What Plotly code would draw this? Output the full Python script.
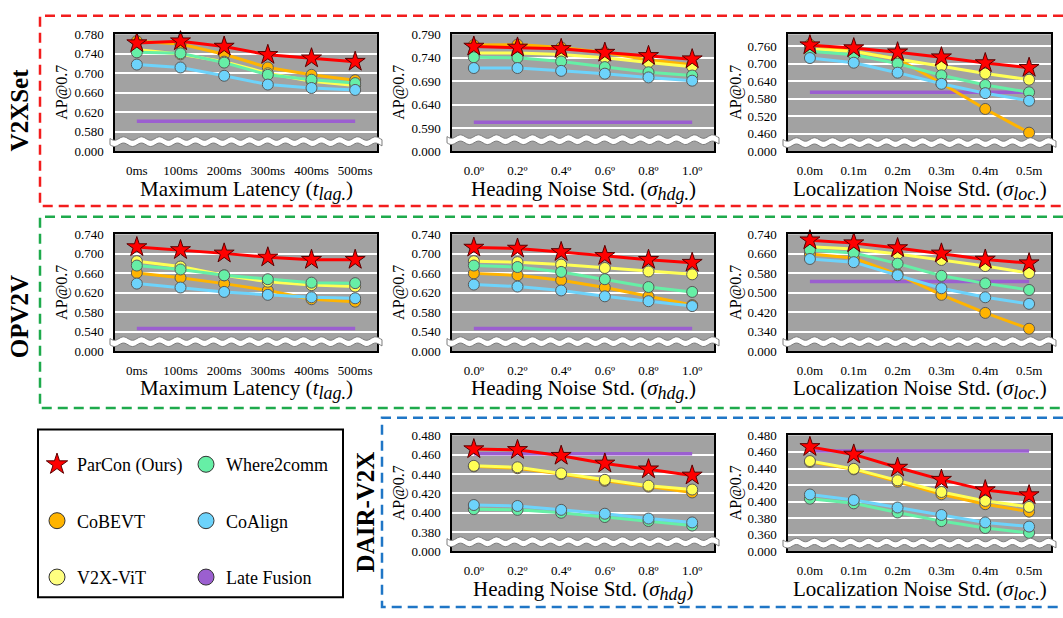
import math
import plotly.graph_objects as go

W, H = 1063, 618
FONT = "Times New Roman, Liberation Serif, DejaVu Serif, serif"

# ---------------------------------------------------------------- tick labels
latency_labels = ["0ms", "100ms", "200ms", "300ms", "400ms", "500ms"]
heading_labels = ["0.0\u00ba", "0.2\u00ba", "0.4\u00ba", "0.6\u00ba", "0.8\u00ba", "1.0\u00ba"]
loc_labels = ["0.0m", "0.1m", "0.2m", "0.3m", "0.4m", "0.5m"]

# ---------------------------------------------------------------- AP@0.7 values
v2xset_latency = {
    "Late Fusion":   [0.602, 0.602, 0.602, 0.602, 0.602, 0.602],
    "CoBEVT":        [0.766, 0.760, 0.739, 0.712, 0.697, 0.686],
    "V2X-ViT":       [0.749, 0.739, 0.724, 0.700, 0.684, 0.675],
    "Where2comm":    [0.743, 0.741, 0.722, 0.697, 0.687, 0.680],
    "CoAlign":       [0.718, 0.712, 0.695, 0.677, 0.670, 0.666],
    "ParCon (Ours)": [0.762, 0.766, 0.755, 0.738, 0.731, 0.724],
}
v2xset_heading = {
    "Late Fusion":   [0.602, 0.602, 0.602, 0.602, 0.602, 0.602],
    "CoBEVT":        [0.767, 0.768, 0.762, 0.751, 0.735, 0.725],
    "V2X-ViT":       [0.750, 0.750, 0.747, 0.740, 0.730, 0.721],
    "Where2comm":    [0.741, 0.740, 0.732, 0.720, 0.709, 0.702],
    "CoAlign":       [0.718, 0.718, 0.712, 0.706, 0.698, 0.691],
    "ParCon (Ours)": [0.764, 0.762, 0.759, 0.751, 0.744, 0.737],
}
v2xset_loc = {
    "Late Fusion":   [0.602, 0.602, 0.602, 0.602, 0.602, 0.602],
    "CoBEVT":        [0.765, 0.742, 0.716, 0.633, 0.545, 0.464],
    "V2X-ViT":       [0.750, 0.741, 0.716, 0.692, 0.666, 0.645],
    "Where2comm":    [0.742, 0.730, 0.700, 0.660, 0.627, 0.602],
    "CoAlign":       [0.719, 0.703, 0.669, 0.631, 0.599, 0.573],
    "ParCon (Ours)": [0.763, 0.753, 0.739, 0.722, 0.702, 0.686],
}
opv2v_latency = {
    "Late Fusion":   [0.547, 0.547, 0.547, 0.547, 0.547, 0.547],
    "CoBEVT":        [0.661, 0.651, 0.639, 0.625, 0.607, 0.602],
    "V2X-ViT":       [0.685, 0.674, 0.656, 0.643, 0.636, 0.633],
    "Where2comm":    [0.676, 0.668, 0.656, 0.648, 0.641, 0.640],
    "CoAlign":       [0.639, 0.631, 0.622, 0.616, 0.611, 0.609],
    "ParCon (Ours)": [0.714, 0.708, 0.701, 0.693, 0.688, 0.688],
}
opv2v_heading = {
    "Late Fusion":   [0.547, 0.547, 0.547, 0.547, 0.547, 0.547],
    "CoBEVT":        [0.660, 0.656, 0.646, 0.631, 0.613, 0.595],
    "V2X-ViT":       [0.685, 0.683, 0.678, 0.671, 0.664, 0.658],
    "Where2comm":    [0.676, 0.673, 0.663, 0.648, 0.632, 0.622],
    "CoAlign":       [0.637, 0.633, 0.625, 0.613, 0.603, 0.593],
    "ParCon (Ours)": [0.713, 0.711, 0.704, 0.696, 0.688, 0.682],
}
opv2v_loc = {
    "Late Fusion":   [0.547, 0.547, 0.547, 0.547, 0.547, 0.547],
    "CoBEVT":        [0.659, 0.643, 0.576, 0.492, 0.418, 0.353],
    "V2X-ViT":       [0.689, 0.680, 0.659, 0.635, 0.610, 0.581],
    "Where2comm":    [0.676, 0.664, 0.620, 0.570, 0.539, 0.512],
    "CoAlign":       [0.639, 0.626, 0.572, 0.519, 0.482, 0.455],
    "ParCon (Ours)": [0.716, 0.704, 0.684, 0.662, 0.637, 0.622],
}
dair_heading = {
    "Late Fusion":   [0.461, 0.461, 0.461, 0.461, 0.461, 0.461],
    "CoBEVT":        [0.448, 0.446, 0.440, 0.433, 0.427, 0.421],
    "V2X-ViT":       [0.4485, 0.447, 0.4407, 0.434, 0.428, 0.424],
    "Where2comm":    [0.4037, 0.403, 0.400, 0.3956, 0.3915, 0.3868],
    "CoAlign":       [0.408, 0.407, 0.403, 0.399, 0.394, 0.390],
    "ParCon (Ours)": [0.4658, 0.465, 0.459, 0.451, 0.445, 0.4386],
}
dair_loc = {
    "Late Fusion":   [0.461, 0.461, 0.461, 0.461, 0.461, 0.461],
    "CoBEVT":        [0.448, 0.439, 0.424, 0.409, 0.397, 0.388],
    "V2X-ViT":       [0.449, 0.4396, 0.4257, 0.4117, 0.401, 0.3937],
    "Where2comm":    [0.4036, 0.398, 0.387, 0.3766, 0.3683, 0.3624],
    "CoAlign":       [0.4087, 0.402, 0.393, 0.384, 0.375, 0.370],
    "ParCon (Ours)": [0.4661, 0.457, 0.4412, 0.4266, 0.414, 0.408],
}

# y tick labels of each panel; the lowest label marks the broken axis
yt_v2x_lat = ["0.000", "0.580", "0.620", "0.660", "0.700", "0.740", "0.780"]
yt_v2x_hdg = ["0.000", "0.590", "0.640", "0.690", "0.740", "0.790"]
yt_v2x_loc = ["0.000", "0.460", "0.520", "0.580", "0.640", "0.700", "0.760"]
yt_opv_lat = ["0.000", "0.540", "0.580", "0.620", "0.660", "0.700", "0.740"]
yt_opv_hdg = ["0.000", "0.540", "0.580", "0.620", "0.660", "0.700", "0.740"]
yt_opv_loc = ["0.000", "0.340", "0.420", "0.500", "0.580", "0.660", "0.740"]
yt_dair_hdg = ["0.000", "0.380", "0.400", "0.420", "0.440", "0.460", "0.480"]
yt_dair_loc = ["0.000", "0.360", "0.380", "0.400", "0.420", "0.440", "0.460", "0.480"]

# ---------------------------------------------------------------- styles
STYLE = {
    "ParCon (Ours)": dict(color="#ff0000", symbol="star", size=15, edge="#5a0000"),
    "CoBEVT":        dict(color="#ffb400", symbol="circle", size=11, edge="#5a5a5a"),
    "V2X-ViT":       dict(color="#ffff55", symbol="circle", size=11, edge="#5a5a5a"),
    "Where2comm":    dict(color="#66efa6", symbol="circle", size=11, edge="#5a5a5a"),
    "CoAlign":       dict(color="#6dd3fb", symbol="circle", size=11, edge="#5a5a5a"),
    "Late Fusion":   dict(color="#9b5fd0", symbol="circle", size=11, edge="#5a5a5a"),
}
DRAW_ORDER = ["Late Fusion", "CoBEVT", "V2X-ViT", "Where2comm", "CoAlign", "ParCon (Ours)"]

# panel boxes in pixels
COL_X = [(115, 377), (452, 714), (788, 1051)]
ROW_Y = [(28, 148), (233, 353), (439, 558)]
XTITLE_Y = [188, 392, 598]
YTITLE_X = [62, 399, 736]


def math_title(prefix, var, sub):
    return (f"{prefix} (<i>{var}</i><sub><span style='font-size:18px'>"
            f"<i>{sub}</i></span></sub>)")


lat_title = math_title("Maximum Latency", "t", "lag.")
hdg_title = math_title("Heading Noise Std.", "\u03c3", "hdg.")
hdg_title_d = math_title("Heading Noise Std.", "\u03c3", "hdg")
loc_title = math_title("Localization Noise Std.", "\u03c3", "loc.")

panels = [
    (v2xset_latency, latency_labels, yt_v2x_lat, None, lat_title, 0, 0),
    (v2xset_heading, heading_labels, yt_v2x_hdg, None, hdg_title, 0, 1),
    (v2xset_loc, loc_labels, yt_v2x_loc, 0.80, loc_title, 0, 2),
    (opv2v_latency, latency_labels, yt_opv_lat, None, lat_title, 1, 0),
    (opv2v_heading, heading_labels, yt_opv_hdg, None, hdg_title, 1, 1),
    (opv2v_loc, loc_labels, yt_opv_loc, None, loc_title, 1, 2),
    (dair_heading, heading_labels, yt_dair_hdg, None, hdg_title_d, 2, 1),
    (dair_loc, loc_labels, yt_dair_loc, None, loc_title, 2, 2),
]


def px_x(x):
    return x / W


def px_y(y):
    return 1 - y / H


def wave_path(x0, x1, yc, half=3.2, amp=1.8, period=18.0):
    """Closed white band with wavy edges marking the broken y axis."""
    n = int((x1 - x0) / 1.5) + 1
    xs = [x0 + (x1 - x0) * i / (n - 1) for i in range(n)]
    top = [(x, yc - half + amp * math.sin(2 * math.pi * (x - x0) / period)) for x in xs]
    bot = [(x, yc + half + amp * math.sin(2 * math.pi * (x - x0) / period)) for x in reversed(xs)]
    pts = top + bot
    return "M" + " L".join(f"{px_x(x):.5f},{px_y(y):.5f}" for x, y in pts) + " Z"


def open_frame(x0, y0, y1):
    """Three-sided frame that runs off the right edge of the page."""
    return (f"M 1.0,{px_y(y0):.5f} L {px_x(x0):.5f},{px_y(y0):.5f} "
            f"L {px_x(x0):.5f},{px_y(y1):.5f} L 1.0,{px_y(y1):.5f}")


fig = go.Figure()
layout = dict(
    width=W, height=H,
    margin=dict(l=0, r=0, t=0, b=0),
    paper_bgcolor="white",
    plot_bgcolor="#a2a2a2",
    font=dict(family=FONT, color="black"),
    showlegend=True,
)
shapes = []
annotations = []

for k, (data, xlabels, ylabels, ytop, xtitle, r, c) in enumerate(panels, start=1):
    xa = "x" if k == 1 else f"x{k}"
    ya = "y" if k == 1 else f"y{k}"
    (xl, xr), (yt, yb) = COL_X[c], ROW_Y[r]
    vals = [float(t) for t in ylabels[1:]]
    step = vals[1] - vals[0]
    bottom = vals[0] - step
    top = ytop if ytop is not None else vals[-1]
    tickvals = [bottom] + vals

    layout[f"xaxis{'' if k == 1 else k}"] = dict(
        domain=[px_x(xl), px_x(xr)], anchor=ya, type="category",
        range=[-0.5, len(xlabels) - 0.5],
        showgrid=False, zeroline=False,
        showline=True, mirror=True, linecolor="black", linewidth=1.5,
        ticks="outside", ticklen=6, tickcolor="rgba(0,0,0,0)",
        tickfont=dict(family=FONT, size=13, color="black"),
        fixedrange=True,
    )
    layout[f"yaxis{'' if k == 1 else k}"] = dict(
        domain=[px_y(yb), px_y(yt)], anchor=xa,
        range=[bottom, top],
        tickvals=tickvals, ticktext=ylabels,
        showgrid=True, gridcolor="white", gridwidth=1.5, zeroline=False,
        showline=True, mirror=True, linecolor="black", linewidth=1.5,
        ticks="outside", ticklen=7, tickcolor="rgba(0,0,0,0)",
        tickfont=dict(family=FONT, size=13, color="black"),
        fixedrange=True,
    )

    for name in DRAW_ORDER:
        st = STYLE[name]
        if name == "Late Fusion":
            fig.add_trace(go.Scatter(
                x=xlabels, y=data[name], mode="lines", xaxis=xa, yaxis=ya,
                line=dict(color=st["color"], width=3.5), showlegend=False,
                hoverinfo="skip"))
        else:
            fig.add_trace(go.Scatter(
                x=xlabels, y=data[name], mode="lines+markers", xaxis=xa, yaxis=ya,
                line=dict(color=st["color"], width=3),
                marker=dict(symbol=st["symbol"], size=st["size"], color=st["color"],
                            line=dict(color=st["edge"], width=1)),
                showlegend=False, cliponaxis=False, name=name))

    # broken-axis band between the lowest two tick labels
    mid = (bottom + vals[0]) / 2
    yc = yt + (top - mid) / (top - bottom) * (yb - yt)
    shapes.append(dict(type="path", xref="paper", yref="paper",
                       path=wave_path(xl - 5, xr + 5, yc),
                       fillcolor="white", line=dict(color="#7d7d7d", width=1),
                       layer="above"))

    annotations.append(dict(text=xtitle, xref="paper", yref="paper",
                            x=px_x((xl + xr) / 2), y=px_y(XTITLE_Y[r]),
                            xanchor="center", yanchor="middle", showarrow=False,
                            font=dict(family=FONT, size=21, color="black")))
    annotations.append(dict(text="AP@0.7", xref="paper", yref="paper",
                            x=px_x(YTITLE_X[c]), y=px_y((yt + yb) / 2),
                            xanchor="center", yanchor="middle", showarrow=False,
                            textangle=-90,
                            font=dict(family=FONT, size=16, color="black")))

# legend entries (marker only)
LEGEND_COLS = [["ParCon (Ours)", "CoBEVT", "V2X-ViT"],
               ["Where2comm", "CoAlign", "Late Fusion"]]
for li, col in enumerate(LEGEND_COLS):
    for name in col:
        st = STYLE[name]
        fig.add_trace(go.Scatter(
            x=[None], y=[None], mode="markers", name=name,
            legend="legend" if li == 0 else "legend2", legendgroup=name,
            marker=dict(symbol=st["symbol"], size=22,
                        color="#ffff80" if name == "V2X-ViT" else st["color"],
                        line=dict(color="#333333" if name != "ParCon (Ours)" else "#5a0000",
                                  width=1)),
            showlegend=True))

legend_common = dict(xanchor="left", yanchor="top", bgcolor="rgba(0,0,0,0)",
                     borderwidth=0, tracegroupgap=30, itemsizing="trace",
                     font=dict(family=FONT, size=18, color="black"))
layout["legend"] = dict(x=px_x(37), y=px_y(450), **legend_common)
layout["legend2"] = dict(x=px_x(186), y=px_y(450), **legend_common)

# legend frame
shapes.append(dict(type="rect", xref="paper", yref="paper",
                   x0=px_x(38), x1=px_x(343), y0=px_y(605), y1=px_y(433),
                   line=dict(color="black", width=2)))

# dataset group frames
DASH = "10px,6px"
for color, x0, y0, y1 in [("#f21d1d", 40, 9, 204), ("#1eaa4c", 40, 215, 411),
                          ("#1f76c6", 382, 421, 615)]:
    shapes.append(dict(type="path", xref="paper", yref="paper",
                       path=open_frame(x0, y0, y1),
                       line=dict(color=color, width=2.5, dash=DASH)))

for text, x, y in [("V2XSet", 19, 106), ("OPV2V", 19, 318), ("DAIR-V2X", 365, 518)]:
    annotations.append(dict(text=f"<b>{text}</b>", xref="paper", yref="paper",
                            x=px_x(x), y=px_y(y), xanchor="center", yanchor="middle",
                            showarrow=False, textangle=-90,
                            font=dict(family=FONT, size=25, color="black")))

layout["shapes"] = shapes
layout["annotations"] = annotations
fig.update_layout(**layout)
fig.write_html("out.html")
